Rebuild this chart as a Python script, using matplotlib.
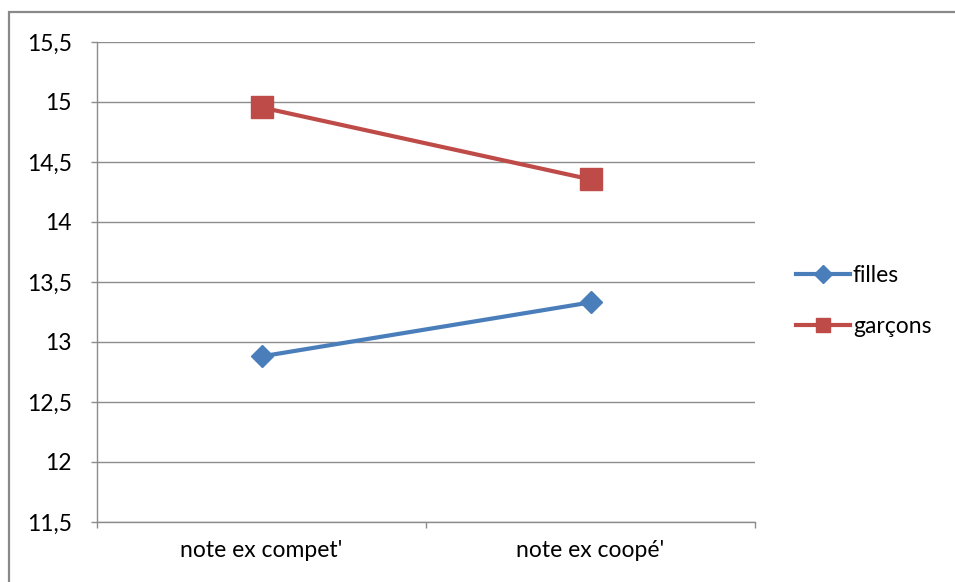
import matplotlib
matplotlib.use("Agg")
import matplotlib.pyplot as plt
from matplotlib.patches import Rectangle
from matplotlib.ticker import FuncFormatter, FixedLocator

categories = ["note ex compet'", "note ex coopé'"]
filles = [12.88, 13.33]
garcons = [14.955, 14.355]
series_names = ["filles", "garçons"]
yticks = [11.5, 12, 12.5, 13, 13.5, 14, 14.5, 15, 15.5]

plt.rcParams['font.family'] = ['Lato', 'DejaVu Sans']
FS = 16.5

fig = plt.figure(figsize=(9.55, 5.82), dpi=100)
fig.patch.set_facecolor('white')

# outer chart border
fig.patches.append(Rectangle((9/955, -0.05), 1.2, (582-12)/582 + 0.05,
                             transform=fig.transFigure, fill=False,
                             edgecolor='#898989', linewidth=1.6, zorder=0))

ax = fig.add_axes([97/955, (582-522)/582, (755-97)/955, (522-42)/582])

x = list(range(len(categories)))
ax.plot(x, filles, color='#4A7EBB', linewidth=3.0, marker='D', markersize=11,
        label=series_names[0], zorder=3)
ax.plot(x, garcons, color='#BE4B48', linewidth=3.0, marker='s', markersize=15.5,
        label=series_names[1], zorder=3)

ax.set_xlim(-0.5, len(categories) - 0.5)
ax.set_ylim(11.5, 15.5)
ax.set_yticks(yticks)
ax.yaxis.set_major_formatter(FuncFormatter(lambda v, p: (('%g' % v).replace('.', ','))))
ax.grid(axis='y', color='#8c8c8c', linewidth=1.0)
ax.set_axisbelow(True)

ax.xaxis.set_major_locator(FixedLocator([-0.5, 0.5, 1.5]))
ax.xaxis.set_major_formatter(FuncFormatter(lambda v, p: ''))
ax.set_xticks(x, minor=True)
ax.set_xticklabels(categories, minor=True)
ax.tick_params(axis='x', which='minor', length=0, pad=13, labelsize=FS, colors='#000000')
ax.tick_params(axis='x', which='major', length=4.5, color='#8c8c8c', width=1)
ax.tick_params(axis='y', length=4.5, color='#8c8c8c', width=1, pad=13.5, labelsize=FS)

for s in ['top', 'right']:
    ax.spines[s].set_visible(False)
for s in ['left', 'bottom']:
    ax.spines[s].set_color('#8c8c8c')
    ax.spines[s].set_linewidth(1.0)

leg = ax.legend(loc='center left', bbox_to_anchor=(796/955, (582-301)/582),
                bbox_transform=fig.transFigure, frameon=False, fontsize=FS,
                handlelength=2.36, handletextpad=0.12, labelspacing=1.27,
                borderpad=0, borderaxespad=0)
hs = leg.legend_handles
hs[0].set_markersize(9.5)
hs[1].set_markersize(10.5)

fig.savefig("out.png", dpi=100, facecolor='white')
